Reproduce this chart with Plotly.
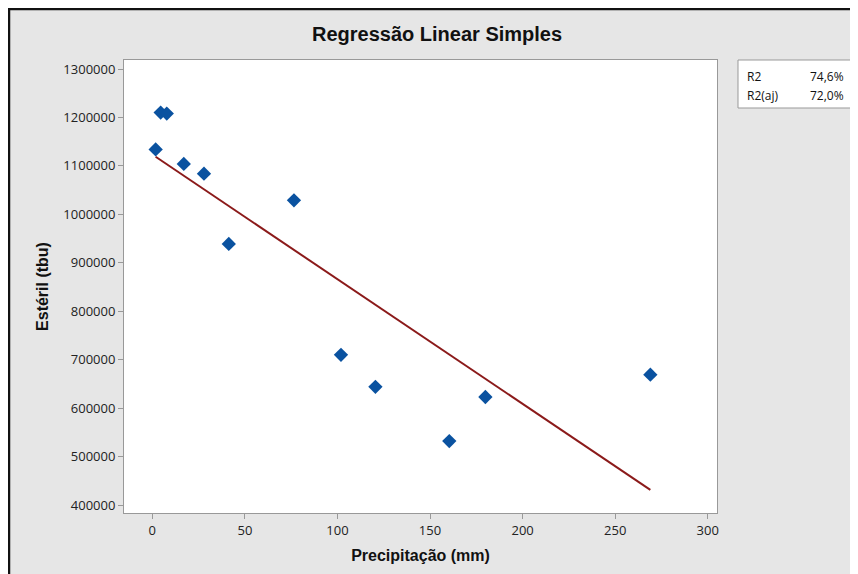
import numpy as np
import plotly.graph_objects as go

# Data
precipitacao = [1.8, 4.5, 7.8, 17.0, 27.9, 41.3, 76.5, 101.9, 120.5, 160.4, 179.9, 269.0]
esteril = [1134000, 1210000, 1208000, 1104000, 1084000, 939000, 1029000,
           710000, 644000, 532000, 623000, 669000]
stat_labels = ["R2", "R2(aj)"]
stat_values = ["74,6%", "72,0%"]
x_ticks = [0, 50, 100, 150, 200, 250, 300]
y_ticks = [400000, 500000, 600000, 700000, 800000, 900000, 1000000, 1100000, 1200000, 1300000]
y_tick_text = [str(v) for v in y_ticks]

# Fitted regression line
slope, intercept = np.polyfit(precipitacao, esteril, 1)
x_line = [min(precipitacao), max(precipitacao)]
y_line = [slope * v + intercept for v in x_line]

# page body has an 8px margin; positions below are in page pixels
OFF = 8
W, H = 858 - OFF, 574 - OFF
ml, mr, mt, mb = 124 - OFF, 858 - 717, 60 - OFF, 574 - 513
pw, ph = W - ml - mr, H - mt - mb

def px(x):
    return (x - OFF - ml) / pw

def py(y):
    return (H - mb - (y - OFF)) / ph

fig = go.Figure()
fig.add_trace(go.Scatter(x=x_line, y=y_line, mode="lines",
                         line=dict(color="#8B1A1A", width=2), hoverinfo="skip"))
fig.add_trace(go.Scatter(x=precipitacao, y=esteril, mode="markers",
                         marker=dict(symbol="diamond", size=11, color="#0A52A0")))

tick_font = dict(family="Open Sans, Noto Sans, sans-serif", size=13, color="#222")
fig.update_xaxes(range=[-15.3, 305], tickvals=x_ticks, ticks="outside", ticklen=5,
                 tickcolor="#999", showline=True, linecolor="#999", mirror=True,
                 showgrid=False, zeroline=False, tickfont=tick_font,
                 title=dict(text="<b>Precipitação (mm)</b>",
                            font=dict(family="Liberation Sans, Arial", size=16, color="#111"),
                            standoff=12))
fig.update_yaxes(range=[383500, 1318600], tickvals=y_ticks, ticktext=y_tick_text,
                 ticks="outside", ticklen=5,
                 tickcolor="#999", showline=True, linecolor="#999", mirror=True,
                 showgrid=False, zeroline=False, tickfont=tick_font,
                 title=dict(text="<b>Estéril (tbu)</b>",
                            font=dict(family="Liberation Sans, Arial", size=16, color="#111"),
                            standoff=10))

shapes = [
    dict(type="rect", xref="paper", yref="paper", x0=px(9), x1=px(900), y0=py(620), y1=py(9),
         fillcolor="#E6E6E6", line=dict(color="#111", width=2.5), layer="below"),
    dict(type="rect", xref="paper", yref="paper", x0=0, x1=1, y0=0, y1=1,
         fillcolor="white", line=dict(width=0), layer="below"),
    dict(type="rect", xref="paper", yref="paper", x0=px(738), x1=px(854.5), y0=py(108), y1=py(60),
         fillcolor="white", line=dict(color="#999", width=1), layer="below"),
]

annotations = [
    dict(text="<b>Regressão Linear Simples</b>", xref="paper", yref="paper",
         x=px(437), y=py(34), xanchor="center", yanchor="middle", showarrow=False,
         font=dict(family="Liberation Sans, Arial", size=20, color="#111")),
]
row_y = [77, 96]
for lab, val, ry in zip(stat_labels, stat_values, row_y):
    annotations.append(dict(text=lab, xref="paper", yref="paper", x=px(745), y=py(ry),
                            xanchor="left", yanchor="middle", showarrow=False,
                            font=dict(family="Open Sans, Noto Sans, sans-serif", size=12, color="#111")))
    annotations.append(dict(text=val, xref="paper", yref="paper", x=px(846), y=py(ry),
                            xanchor="right", yanchor="middle", showarrow=False,
                            font=dict(family="Open Sans, Noto Sans, sans-serif", size=12, color="#111")))

fig.update_layout(width=W, height=H, margin=dict(l=ml, r=mr, t=mt, b=mb),
                  paper_bgcolor="white", plot_bgcolor="white", showlegend=False,
                  shapes=shapes, annotations=annotations)

fig.write_html("out.html", post_script="document.body.style.overflow='hidden';")
